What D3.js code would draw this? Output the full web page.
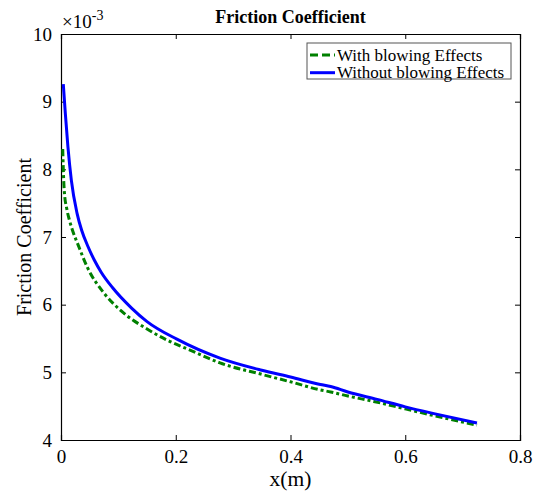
<!DOCTYPE html>
<html><head><meta charset="utf-8">
<script src="https://cdn.jsdelivr.net/npm/d3@7"></script>
<style>body{margin:0;background:#fff}svg text{font-family:"Liberation Serif","Times New Roman",serif;fill:#000}</style>
</head><body><svg id="c" width="538" height="495"></svg>
<script>
const xTicks = [0, 0.2, 0.4, 0.6, 0.8];
const yTicks = [4, 5, 6, 7, 8, 9, 10];
const seriesNames = ["With blowing Effects", "Without blowing Effects"];
const xWith = [0.003,0.0047,0.006,0.010,0.015,0.020,0.030,0.046,0.075,0.106,0.15,0.184,0.23,0.277,0.35,0.40,0.452,0.47,0.50,0.545,0.60,0.65,0.725];
const yWith = [8.30,7.84,7.65,7.42,7.24,7.10,6.88,6.55,6.17,5.90,5.64,5.48,5.31,5.14,4.97,4.86,4.74,4.71,4.65,4.57,4.46,4.36,4.22];
const xWithout = [0.004,0.0075,0.012,0.018,0.028,0.036,0.047,0.058,0.070,0.09,0.123,0.15,0.202,0.277,0.35,0.40,0.452,0.47,0.50,0.551,0.60,0.65,0.725];
const yWithout = [9.26,8.83,8.34,7.84,7.35,7.10,6.86,6.66,6.48,6.25,5.95,5.75,5.49,5.21,5.03,4.93,4.82,4.79,4.71,4.60,4.49,4.39,4.25];

const svg = d3.select("#c");
const L = 61, R = 520, T = 34, B = 440;
const x = d3.scaleLinear().domain([0, 0.8]).range([L, R]);
const y = d3.scaleLinear().domain([4, 10]).range([B, T]);
const FF = '"Liberation Serif","Times New Roman",serif';

const gx = svg.append("g").attr("transform", `translate(0,${B})`)
  .call(d3.axisBottom(x).tickValues(xTicks).tickSize(-5).tickPadding(10).tickFormat(d => d));
const gxt = svg.append("g").attr("transform", `translate(0,${T})`)
  .call(d3.axisTop(x).tickValues(xTicks).tickSize(-5).tickFormat(""));
const gy = svg.append("g").attr("transform", `translate(${L},0)`)
  .call(d3.axisLeft(y).tickValues(yTicks).tickSize(-5).tickPadding(9).tickFormat(d => d));
const gyr = svg.append("g").attr("transform", `translate(${R},0)`)
  .call(d3.axisRight(y).tickValues(yTicks).tickSize(-5).tickFormat(""));
[gx, gxt, gy, gyr].forEach(g => {
  g.attr("font-family", FF);
  g.select(".domain").attr("stroke", "#000").attr("stroke-width", 1.2);
  g.selectAll(".tick line").attr("stroke", "#000");
  g.selectAll("text").style("font-size", "19px").attr("fill", "#000");
});
gx.selectAll(".tick text").attr("dy", "0.71em");

const line = d3.line().x(d => x(d[0])).y(d => y(d[1])).curve(d3.curveMonotoneX);
const dWith = xWith.map((v, i) => [v, yWith[i]]);
const dWithout = xWithout.map((v, i) => [v, yWithout[i]]);
svg.append("path").datum(dWith).attr("d", line)
  .attr("fill", "none").attr("stroke", "#008000").attr("stroke-width", 3).attr("stroke-dasharray", "7,3,3,3");
svg.append("path").datum(dWithout).attr("d", line)
  .attr("fill", "none").attr("stroke", "#0000ff").attr("stroke-width", 3);

const ex = svg.append("text").attr("x", 62).attr("y", 28).style("font-size", "19px");
ex.append("tspan").text("\u00d710");
ex.append("tspan").attr("dy", -8).style("font-size", "14px").text("-3");

svg.append("text").attr("x", (L + R) / 2).attr("y", 23).attr("text-anchor", "middle")
  .style("font-size", "18px").style("font-weight", "bold").text("Friction Coefficient");
svg.append("text").attr("x", (L + R) / 2).attr("y", 486).attr("text-anchor", "middle")
  .style("font-size", "21.5px").text("x(m)");
svg.append("text").attr("transform", `translate(31,${(T + B) / 2}) rotate(-90)`)
  .attr("text-anchor", "middle").style("font-size", "20px").text("Friction Coefficient");

const lg = svg.append("g");
lg.append("rect").attr("x", 307).attr("y", 43).attr("width", 204).attr("height", 36)
  .attr("fill", "#fff").attr("stroke", "#555").attr("stroke-width", 1);
const colors = ["#008000", "#0000ff"];
seriesNames.forEach((n, i) => {
  const yy = 55 + i * 17.7;
  lg.append("line").attr("x1", 310).attr("x2", 335).attr("y1", yy).attr("y2", yy)
    .attr("stroke", colors[i]).attr("stroke-width", 3)
    .attr("stroke-dasharray", i === 0 ? "8,4" : null);
  lg.append("text").attr("x", 337).attr("y", yy + 5.5).style("font-size", "17px").text(n);
});
</script></body></html>
